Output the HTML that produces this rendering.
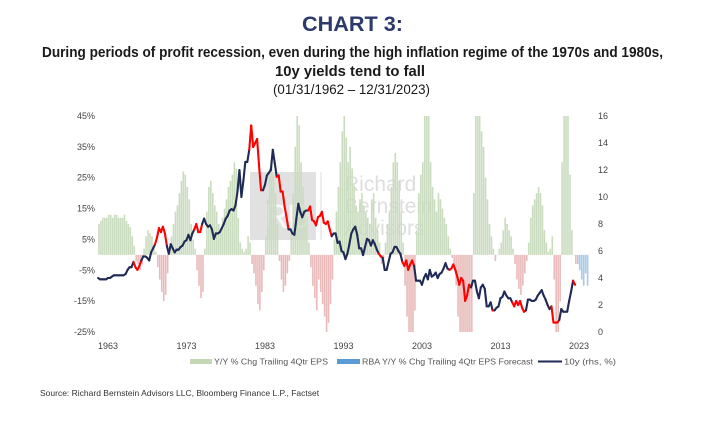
<!DOCTYPE html>
<html><head><meta charset="utf-8"><style>
html,body{margin:0;padding:0;background:#fff;}
svg{display:block;font-family:"Liberation Sans",Arial,sans-serif;}
</style></head><body>
<svg id="chart" width="703" height="425" viewBox="0 0 703 425">
<text x="352.5" y="31" text-anchor="middle" font-size="21" font-weight="bold" fill="#2b3a6b" textLength="101" lengthAdjust="spacingAndGlyphs">CHART 3:</text>
<text x="352.5" y="57" text-anchor="middle" font-size="15" font-weight="bold" fill="#1a1a1a" textLength="621" lengthAdjust="spacingAndGlyphs">During periods of profit recession, even during the high inflation regime of the 1970s and 1980s,</text>
<text x="350" y="76" text-anchor="middle" font-size="15" font-weight="bold" fill="#1a1a1a" textLength="150" lengthAdjust="spacingAndGlyphs">10y yields tend to fall</text>
<text x="351.5" y="94" text-anchor="middle" font-size="14" fill="#1a1a1a" textLength="157" lengthAdjust="spacingAndGlyphs">(01/31/1962 – 12/31/2023)</text>

<g>
<rect x="250" y="172" width="66" height="68" fill="#c4c4c4" opacity="0.5"/>
<text x="264" y="228" font-size="34" fill="#fff" opacity="0.8">R</text>
<text x="287" y="228" font-size="34" fill="#fff" opacity="0.8">B</text>
<line x1="321" y1="172" x2="321" y2="240" stroke="#ddd"/>
<text x="344" y="191" font-size="21" fill="#dedede">Richard</text>
<text x="344" y="213" font-size="21" fill="#dedede">Bernstein</text>
<text x="344" y="235" font-size="21" fill="#dedede">Advisors</text>
</g>

<g id="bars"></g>
<g id="line"></g>
<g id="axes" font-size="9" fill="#444"></g>

<g font-size="8.5" fill="#555">
<rect x="190" y="359" width="22" height="5" fill="#c4d8b8"/>
<text x="214" y="364.5" textLength="114" lengthAdjust="spacingAndGlyphs">Y/Y % Chg Trailing 4Qtr EPS</text>
<rect x="337" y="359" width="23" height="5" fill="#5b9bd5"/>
<text x="362" y="364.5" textLength="171" lengthAdjust="spacingAndGlyphs">RBA Y/Y % Chg Trailing 4Qtr EPS Forecast</text>
<line x1="538" y1="361.5" x2="562" y2="361.5" stroke="#1f2a55" stroke-width="2"/>
<text x="564" y="364.5" textLength="52" lengthAdjust="spacingAndGlyphs">10y (rhs, %)</text>
</g>
<text x="40" y="396" font-size="8.5" fill="#333">Source: Richard Bernstein Advisors LLC, Bloomberg Finance L.P., Factset</text>
</svg>
<script>
const startYear = 1962;
const eps = [
10,11,12,12, 12,13,13,12, 13,13,12,12, 12,13,11,10, 9,6,3,-2, -3,-5,-3,2, 6,8,7,6, 3,1,-4,-8,
-12,-15,-13,-6, 2,6,10,14, 16,20,24,27, 26,22,18,10, 5,2,-5,-10, -14,-12,2,14, 22,24,20,16, 14,10,8,12,
15,18,22,24, 26,30,28,12, 4,2,1,2, 6,4,-3,-6, -10,-16,-18,-12, -5,6,18,28, 30,26,20,10, -2,-8,-12,-10,
-6,-2,8,20, 35,48,42,30, 22,16,12,4, -4,-10,-14,-18, -8,-12,-16,-20, -26,-22,-16,-8, 5,14,22,30, 40,48,38,30,
35,28,22,16, 14,18,20,16, 14,12,10,18, 20,12,8,4, -3,-2,4,10, 14,22,30,33, 30,24,14,4, -10,-20,-25,-28,
-26,-18,8,20, 26,30,45,48, 48,30,22,18, 14,20,18,15, 12,10,6,2, -1,-3,-10,-20, -28,-30,-30,-30, -30,-30,-25,20,
48,48,45,40, 35,25,18,10, 6,2,-2,0, 2,4,8,12, 10,8,6,2, -3,-8,-11,-13, -10,-6,-2,4, 12,16,18,20,
22,20,16,8, 4,1,2,6, -8,-25,-30,-15, 30,48,48,48, 26,8,0,-3
];
const epsForecast = [-3,-5,-8,-10,-6,-10];
const yields = [
4.0,3.9,3.9,3.9, 3.9,4.0,4.0,4.1, 4.2,4.2,4.2,4.2, 4.2,4.2,4.3,4.6, 4.8,4.8,5.2,4.8, 4.6,4.9,5.3,5.6, 5.6,5.5,5.3,5.9, 6.2,6.5,7.0,7.7,
7.4,7.8,7.3,6.4, 5.8,6.5,6.2,5.9, 6.1,6.1,6.3,6.4, 6.7,6.8,7.2,6.8, 7.3,7.6,8.0,7.4, 7.4,8.0,8.4,8.0, 7.8,7.9,7.6,6.9, 7.3,7.3,7.4,7.7,
8.0,8.4,8.6,9.0, 9.1,9.0,9.4,10.4, 12.0,10.0,11.2,12.6, 12.6,13.5,15.3,13.7, 14.0,14.3,12.3,10.5, 10.5,10.9,11.6,11.8, 12.0,13.5,12.5,11.5, 11.6,10.4,10.4,9.3,
8.5,7.6,7.6,7.3, 7.2,8.4,9.5,8.9, 8.5,8.9,9.0,9.0, 9.3,8.3,8.2,7.9, 8.5,8.6,8.9,8.1, 8.0,8.2,7.6,7.1, 7.3,7.3,6.6,6.7, 6.0,5.9,5.4,5.8,
6.5,7.3,7.6,7.8, 7.2,6.2,6.2,5.7, 6.3,6.9,6.8,6.4, 6.8,6.5,6.1,5.8, 5.6,5.5,4.6,4.6, 5.2,5.8,5.9,6.3, 6.3,6.0,5.8,5.2, 4.9,5.3,4.6,5.0,
5.3,4.9,3.8,3.8, 3.8,3.5,4.0,4.3, 3.9,4.6,4.1,4.2, 4.4,4.0,4.3,4.4, 4.7,5.1,4.7,4.6, 4.7,5.0,4.6,4.1, 3.5,4.0,3.8,2.3, 2.7,3.5,3.3,3.8,
3.8,3.0,2.5,3.3, 3.5,3.2,1.9,1.9, 2.2,1.6,1.6,1.8, 1.9,2.5,2.6,3.0, 2.7,2.5,2.5,2.2, 1.9,2.3,2.0,2.3, 1.8,1.5,1.6,2.4, 2.4,2.3,2.3,2.4,
2.7,2.9,3.1,2.7, 2.4,2.0,1.7,1.9, 0.7,0.7,0.7,0.9, 1.7,1.5,1.5,1.5, 2.3,3.0,3.8,3.5
];
const leftTicks = [45,35,25,15,5,-5,-15,-25];
const rightTicks = [0,2,4,6,8,10,12,14,16];
const yearTicks = [1963,1973,1983,1993,2003,2013,2023];

const NS = "http://www.w3.org/2000/svg";
const xOf = t => 106 + (t - 1963) * 7.85;
const yL = v => 116 + (45 - v) * (216 / 70);
const yR = v => 332 - v * (216 / 16);
const clip = v => Math.max(-25, Math.min(45, v));
function mk(tag, attrs, parent){ const e=document.createElementNS(NS,tag); for(const k in attrs) e.setAttribute(k,attrs[k]); parent.appendChild(e); return e; }

const bars = document.getElementById('bars');
const y0 = yL(0);
function drawBar(v, t, color){
  const y = yL(clip(v));
  const r = mk('rect', {x: xOf(t), y: Math.min(y, y0), width: 1.6, height: Math.max(0.5, Math.abs(y - y0)), fill: color}, bars);
  
  
}
eps.forEach((v, i) => drawBar(v, startYear + i / 4, v >= 0 ? '#cadcbf' : '#e9baba'));
epsForecast.forEach((v, i) => drawBar(v, startYear + (eps.length + i) / 4, '#a9c9ea'));

const lineG = document.getElementById('line');
for (let i = 0; i < yields.length - 1; i++) {
  const red = eps[i + 1] < 0;
  const l = mk('line', {x1: xOf(startYear + i / 4), y1: yR(yields[i]), x2: xOf(startYear + (i + 1) / 4), y2: yR(yields[i + 1]),
    stroke: red ? '#ff0000' : '#1f2a55', 'stroke-width': 2.1, 'stroke-linecap': 'round'}, lineG);
  
  
}

const axes = document.getElementById('axes');
leftTicks.forEach(v => {
  const t = mk('text', {x: 95, y: yL(v) + 3, 'text-anchor': 'end'}, axes);
  t.textContent = v + '%';
  
  
});
rightTicks.forEach(v => {
  const t = mk('text', {x: 598, y: yR(v) + 3}, axes);
  t.textContent = v;
  
  
});
yearTicks.forEach(v => {
  const t = mk('text', {x: xOf(v) + 2, y: 349, 'text-anchor': 'middle'}, axes);
  t.textContent = v;
  
  
});
</script>
</body></html>
